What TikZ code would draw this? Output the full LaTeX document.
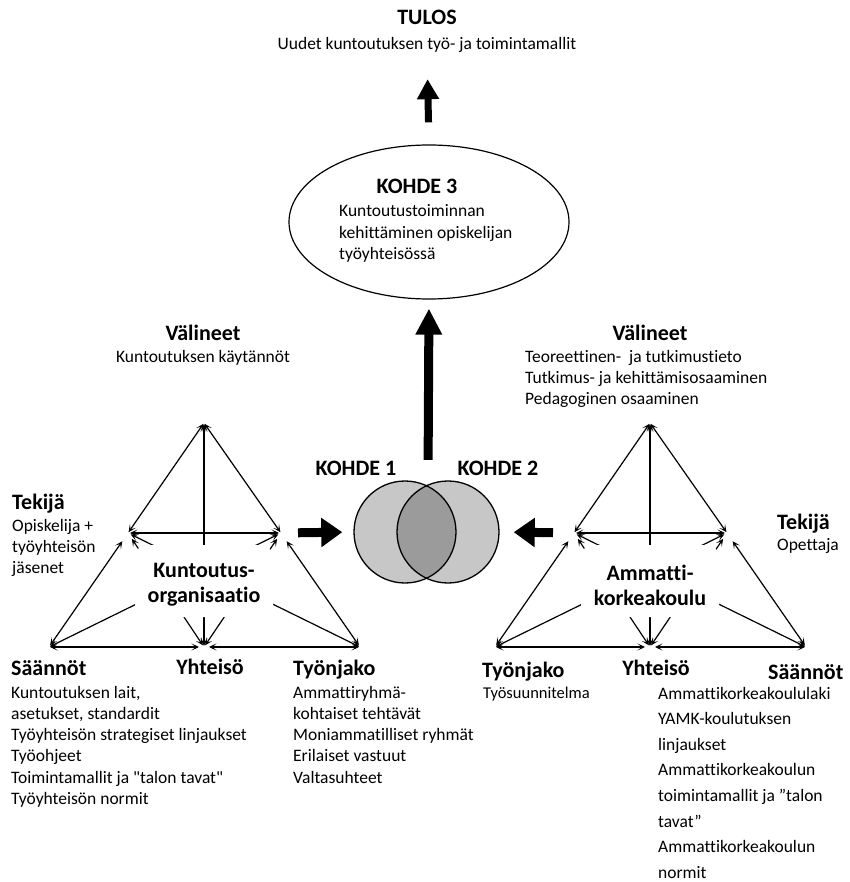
\documentclass[tikz,border=0pt]{standalone}
\usepackage{fontspec}
\setmainfont{Carlito}[Ligatures=CommonOff]
\usetikzlibrary{arrows.meta,shapes.geometric}
\newcommand\hdfont{\fontsize{22}{25}\selectfont\bfseries}
\newcommand\txfont{\fontsize{17.5}{21.3}\selectfont}
\newcommand\smfont{\fontsize{16.5}{20}\selectfont}
\begin{document}
\begin{tikzpicture}[x=1pt,y=-1pt,
  >={Stealth[length=7.5pt,width=7pt,inset=4pt]},
  rel/.style={line width=1.2pt,<->},
  block/.style={line width=9pt,-{Triangle[length=21pt,width=28pt]}},
  txt/.style={inner sep=0pt,font=\txfont,align=left},
  hd/.style={inner sep=0pt,font=\hdfont},
  actri/.pic={
    % corners of the activity triangle
    \coordinate (-A) at (0,423);
    \coordinate (-L) at (-76,533);
    \coordinate (-R) at (77,533);
    \coordinate (-BL) at (-155,647);
    \coordinate (-BM) at (0,647);
    \coordinate (-BR) at (156,647);
    % outer edges
    \draw[rel,shorten <=1pt,shorten >=1pt] (-A) -- (-L);
    \draw[rel,shorten <=1pt,shorten >=1pt] (-A) -- (-R);
    \draw[rel,shorten <=2pt,shorten >=2pt] (-L) -- (-R);
    \draw[rel,shorten <=10pt,shorten >=2pt] (-L) -- (-BL);
    \draw[rel,shorten <=10pt,shorten >=2pt] (-R) -- (-BR);
    \draw[rel,shorten <=1pt,shorten >=5pt] (-BL) -- (-BM);
    \draw[rel,shorten <=5pt,shorten >=1pt] (-BM) -- (-BR);
    % inner links, partly hidden behind the label
    \draw[rel,shorten <=1pt,shorten >=1pt] (-A) -- (-BM);
    \draw[rel,shorten <=7pt,shorten >=2pt] (-L) -- (-BM);
    \draw[rel,shorten <=7pt,shorten >=2pt] (-R) -- (-BM);
    \draw[rel,shorten <=3pt,shorten >=1pt] (-L) -- (-BR);
    \draw[rel,shorten <=3pt,shorten >=1pt] (-R) -- (-BL);
    \node[fill=white,rounded corners=12pt,minimum width=138pt,minimum height=72pt,inner sep=0pt] (-box) at (0,581) {};
    \node[hd,align=center] (-lab) at (0,585) {#1};
  }]
\useasboundingbox (0,0) rectangle (849,882);

% result and third object
\node[hd,anchor=base] (tulos) at (427,25) {TULOS};
\node[txt,anchor=base] (tulostx) at (427,50) {Uudet kuntoutuksen työ- ja toimintamallit};
\node[draw,ellipse,line width=1.2pt,minimum width=280pt,minimum height=154pt,inner sep=0pt] (kohde3) at (429,222) {};
\node[hd,anchor=base] (k3h) at (417,194) {KOHDE 3};
% multi-line blocks are anchored at the baseline of their last line
\node[txt,anchor=base west] (k3t) at (339,259.6) {Kuntoutustoiminnan\\kehittäminen opiskelijan\\työyhteisössä};
\draw[line width=7pt,-{Triangle[length=20pt,width=21pt]},shorten <=22pt,shorten >=26pt] (kohde3.north) -- (tulostx.south);

% the two overlapping objects
\fill[black,fill opacity=0.22] (405,532) circle[radius=51pt];
\draw[line width=1.3pt] (405,532) circle[radius=51pt];
\fill[black,fill opacity=0.22] (448,532) circle[radius=51pt];
\draw[line width=1.3pt] (448,532) circle[radius=51pt];
\node[inner sep=0pt,minimum width=145pt,minimum height=102pt] (venn) at (428,532) {};
\node[hd,anchor=base] (k1) at (356,475) {KOHDE 1};
\node[hd,anchor=base] (k2) at (498,475) {KOHDE 2};
\draw[line width=9pt,-{Triangle[length=26pt,width=25pt]},shorten <=21pt,shorten >=9pt] (venn.north) -- (kohde3.south);

% activity systems
\pic (L) at (204,0) {actri={Kuntoutus-\\organisaatio}};
\pic (R) at (650,0) {actri={Ammatti-\\korkeakoulu}};
\draw[block,shorten <=17pt,shorten >=13pt] (L-R) -- (venn.west);
\draw[block,shorten <=21pt,shorten >=13pt] (R-L) -- (venn.east);

% left system texts
\node[hd,anchor=base] (lvh) at (203,340) {Välineet};
\node[txt,anchor=base] (lvt) at (203,362) {Kuntoutuksen käytännöt};
\node[hd,anchor=base west] (lth) at (12,509) {Tekijä};
\node[txt,anchor=base west] (ltt) at (12,573.6) {Opiskelija +\\työyhteisön\\jäsenet};
\node[hd,anchor=base west] (lsh) at (11,675) {Säännöt};
\node[txt,anchor=base west] (lst) at (11,804.5) {Kuntoutuksen lait,\\asetukset, standardit\\Työyhteisön strategiset linjaukset\\Työohjeet\\Toimintamallit ja \textquotedbl talon tavat\textquotedbl\\Työyhteisön normit};
\node[hd,anchor=base] (lyh) at (210,674) {Yhteisö};
\node[hd,anchor=base west] (ljh) at (293,675) {Työnjako};
\node[txt,anchor=base west] (ljt) at (293,783.2) {Ammattiryhmä-\\kohtaiset tehtävät\\Moniammatilliset ryhmät\\Erilaiset vastuut\\Valtasuhteet};

% right system texts
\node[hd,anchor=base] (rvh) at (650,340) {Välineet};
\node[txt,anchor=base west] (rvt) at (525,404.6) {Teoreettinen-\ \ ja tutkimustieto\\Tutkimus- ja kehittämisosaaminen\\Pedagoginen osaaminen};
\node[hd,anchor=base west] (rth) at (777,529) {Tekijä};
\node[txt,anchor=base west] (rtt) at (777,550) {Opettaja};
\node[hd,anchor=base west] (rjh) at (482,677) {Työnjako};
\node[inner sep=0pt,font=\smfont,anchor=base west] (rjt) at (483,698) {Työsuunnitelma};
\node[hd,anchor=base] (ryh) at (656,675) {Yhteisö};
\node[hd,anchor=base west] (rsh) at (768,679) {Säännöt};
\node[inner sep=0pt,font=\fontsize{17.5}{25.6}\selectfont,align=left,anchor=base west] (rst) at (658,878.2) {Ammattikorkeakoululaki\\YAMK-koulutuksen\\linjaukset\\Ammattikorkeakoulun\\toimintamallit ja ”talon\\tavat”\\Ammattikorkeakoulun\\normit};
\end{tikzpicture}
\end{document}
